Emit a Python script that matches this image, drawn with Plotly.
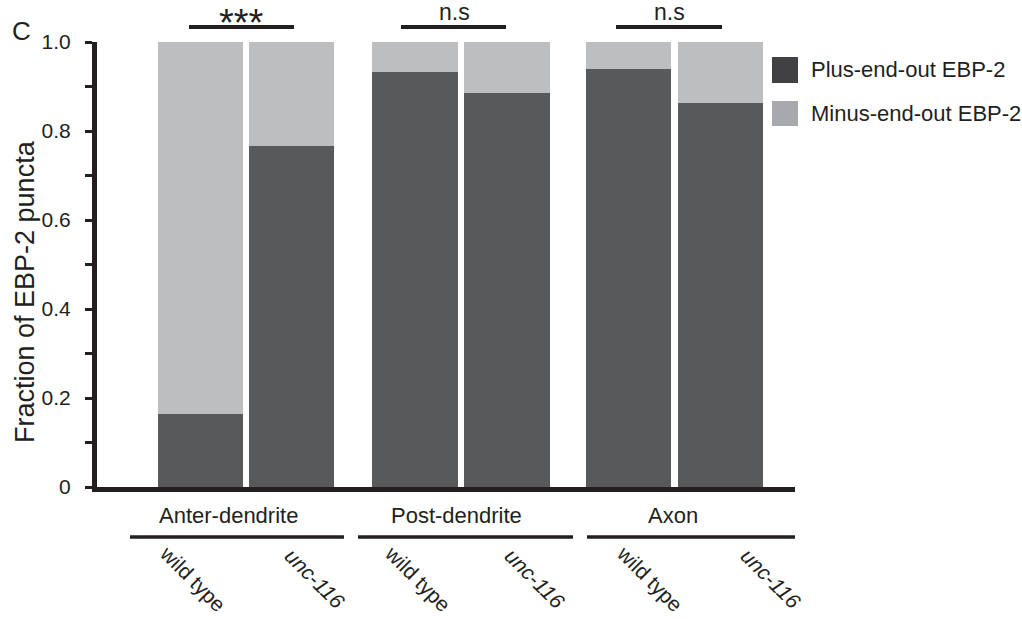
import plotly.graph_objects as go

# ---- data ----
groups = ["Anter-dendrite", "Post-dendrite", "Axon"]
genotypes = ["wild type", "unc-116", "wild type", "unc-116", "wild type", "unc-116"]
plus_end_out = [0.164, 0.766, 0.933, 0.885, 0.940, 0.864]
minus_end_out = [round(1 - v, 3) for v in plus_end_out]
significance = ["***", "n.s", "n.s"]
series_names = ["Plus-end-out EBP-2", "Minus-end-out EBP-2"]
ytick_vals = [0, 0.2, 0.4, 0.6, 0.8, 1.0]
ytick_text = ["0", "0.2", "0.4", "0.6", "0.8", "1.0"]

# ---- layout helpers (positions, not data) ----
xpos = [0, 1, 2.357, 3.368, 4.703, 5.714]
FONT = "Arial, Liberation Sans, sans-serif"
INK = "#231f20"
DARK = "#58595b"
LIGHT = "#bcbec0"
L, R, T, B = 97, 795, 42, 487          # plot area in page pixels


def py(p):   # page pixel row -> paper y
    return (B - p) / (B - T)


def px(p):   # page pixel column -> paper x
    return (p - L) / (R - L)


def dx(p):   # page pixel column -> data x
    return (p - 200.5) / 91.0


fig = go.Figure()
fig.add_trace(go.Bar(x=xpos, y=plus_end_out, name=series_names[0],
                     marker=dict(color=DARK, line=dict(width=0)), width=0.935,
                     showlegend=False))
fig.add_trace(go.Bar(x=xpos, y=minus_end_out, name=series_names[1],
                     marker=dict(color=LIGHT, line=dict(width=0)), width=0.935,
                     showlegend=False))

shapes = []
annotations = []

# significance bars
sig_lines = [(189, 294), (401, 506), (616, 722)]
sig_text_pos = [(241, 17), (454, 12), (669, 12)]
for (x0, x1), (tx, ty), s in zip(sig_lines, sig_text_pos, significance):
    shapes.append(dict(type="line", xref="x", yref="paper", x0=dx(x0), x1=dx(x1),
                       y0=py(27), y1=py(27), line=dict(color=INK, width=4)))
    annotations.append(dict(xref="x", yref="paper", x=dx(tx),
                            y=py(ty + 6) if s == "***" else py(ty), yanchor="middle",
                            text=s, showarrow=False,
                            font=dict(family=FONT, size=38 if s == "***" else 23, color=INK)))

# group labels and lines below
grp_lines = [(130, 344), (358, 573), (587, 802)]
grp_text_x = [228, 456, 673]
for (x0, x1), gx, g in zip(grp_lines, grp_text_x, groups):
    shapes.append(dict(type="line", xref="x", yref="paper", x0=dx(x0), x1=dx(x1),
                       y0=py(537), y1=py(537), line=dict(color=INK, width=3.5)))
    annotations.append(dict(xref="x", yref="paper", x=dx(gx), y=py(515),
                            text=g, showarrow=False, yanchor="middle",
                            font=dict(family=FONT, size=22, color=INK)))

# genotype labels (rotated)
geno_x = [193, 315, 418, 535, 650, 771]
for gx, gt in zip(geno_x, genotypes):
    txt = gt if gt == "wild type" else "<i>" + gt + "</i>"
    annotations.append(dict(xref="x", yref="paper", x=dx(gx), y=py(578),
                            text=txt, showarrow=False, textangle=45,
                            xanchor="center", yanchor="middle",
                            font=dict(family=FONT, size=21, color=INK)))

# y-axis title
annotations.append(dict(xref="paper", yref="paper", x=px(25), y=py(292),
                        text="Fraction of EBP-2 puncta", textangle=-90,
                        showarrow=False, xanchor="center", yanchor="middle",
                        font=dict(family=FONT, size=27, color=INK)))
# panel letter
annotations.append(dict(xref="paper", yref="paper", x=px(21), y=py(31),
                        text="C", showarrow=False, xanchor="center", yanchor="middle",
                        font=dict(family=FONT, size=26, color=INK)))

# legend (drawn manually)
leg_colors = ["#414042", "#a7a9ac"]
leg_boxes = [(57, 83), (101, 126)]
for (y0, y1), c, n in zip(leg_boxes, leg_colors, series_names):
    shapes.append(dict(type="rect", xref="paper", yref="paper",
                       x0=px(772), x1=px(798), y0=py(y1), y1=py(y0),
                       fillcolor=c, line=dict(width=0)))
    annotations.append(dict(xref="paper", yref="paper", x=px(809),
                            y=py((y0 + y1) / 2), text=n, showarrow=False,
                            xanchor="left", yanchor="middle",
                            font=dict(family=FONT, size=22, color=INK)))

fig.update_layout(
    barmode="stack",
    width=1022, height=619,
    margin=dict(l=L, r=1022 - R, t=T, b=619 - B, autoexpand=False),
    paper_bgcolor="white", plot_bgcolor="white",
    shapes=shapes, annotations=annotations,
    font=dict(family=FONT, color=INK),
    xaxis=dict(range=[dx(L), dx(R)], showgrid=False, zeroline=False,
               showticklabels=False, ticks="", showline=True,
               linecolor=INK, linewidth=5),
    yaxis=dict(range=[0, 1], showgrid=False, zeroline=False,
               tickmode="array", tickvals=ytick_vals, ticktext=ytick_text,
               ticks="outside", ticklen=7, tickwidth=3, tickcolor=INK,
               tickfont=dict(family=FONT, size=21, color=INK),
               ticklabelstandoff=10,
               showline=True, linecolor=INK, linewidth=5,
               minor=dict(tickmode="linear", tick0=0, dtick=0.1, ticks="outside",
                          ticklen=7, tickwidth=3, tickcolor=INK)),
)

fig.write_html("out.html", config={"displayModeBar": False},
               post_script="document.body.style.margin='0';")
